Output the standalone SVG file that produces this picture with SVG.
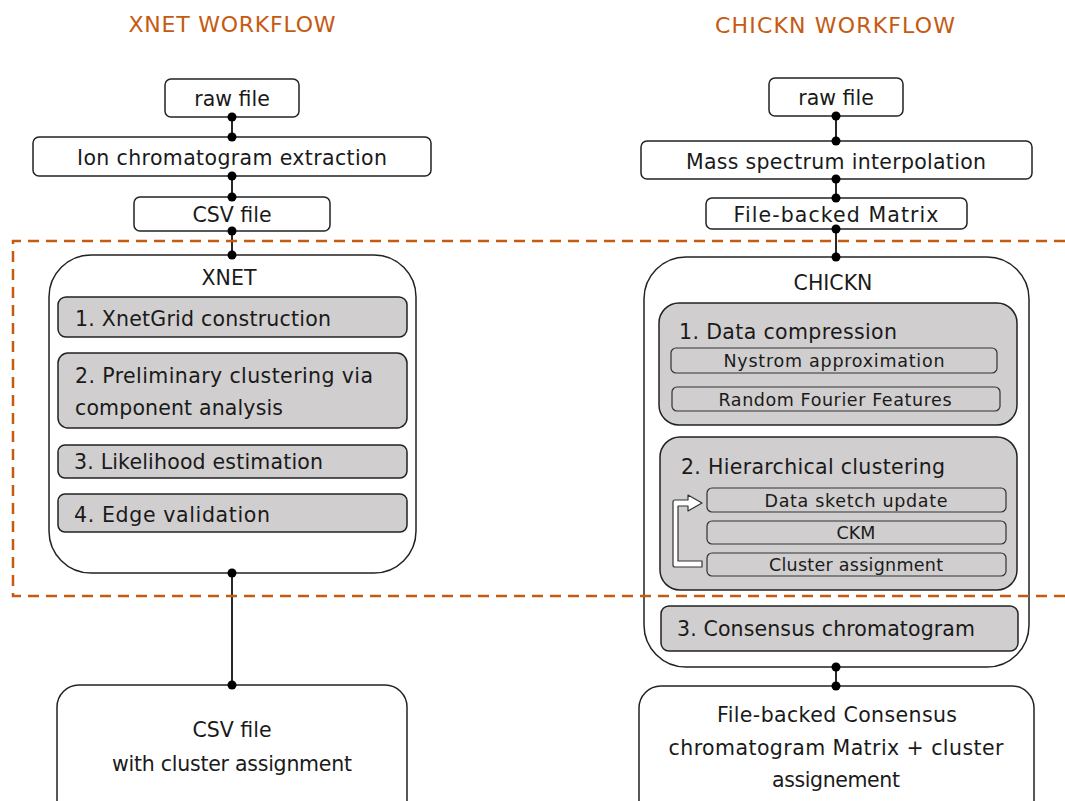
<svg xmlns="http://www.w3.org/2000/svg" width="1065" height="801" viewBox="0 0 1065 801">
<style>
text{font-family:"DejaVu Sans","Liberation Sans",sans-serif;fill:#1a1a1a}
.title{font-size:22px;fill:#c55a11;text-anchor:middle}
.lbl{font-size:20.5px}
.c{text-anchor:middle}
.sm{font-size:17.5px;text-anchor:middle}
.box{fill:#fff;stroke:#222;stroke-width:1.5}
.gray{fill:#d0cece;stroke:#222;stroke-width:1.5}
.sub{fill:#d0cece;stroke:#333;stroke-width:1.2}
.ln{stroke:#111;stroke-width:1.8;fill:none}
.dot{fill:#000}
.dash{fill:none;stroke:#c55a11;stroke-width:2.5;stroke-dasharray:11 7}
</style>
<rect width="1065" height="801" fill="#fff"/>
<text class="title" x="232" y="32" textLength="207">XNET WORKFLOW</text>
<text class="title" x="835" y="33" textLength="240">CHICKN WORKFLOW</text>

<g id="x-raw"><rect class="box" x="165" y="79" width="134" height="38" rx="6"/><text class="lbl c" x="232" y="106">raw file</text></g>
<g id="x-ion"><rect class="box" x="33" y="137" width="398" height="39" rx="6"/><text class="lbl c" x="232" y="165" textLength="310">Ion chromatogram extraction</text></g>
<g id="x-csv"><rect class="box" x="134" y="197" width="196" height="34" rx="6"/><text class="lbl c" x="232" y="222">CSV file</text></g>
<g id="xnet">
<rect class="box" x="49" y="255" width="367" height="318" rx="42"/>
<text class="lbl c" x="229" y="285">XNET</text>
<rect class="gray" x="58" y="297" width="349" height="40" rx="8"/>
<text class="lbl" x="75" y="326" textLength="256">1. XnetGrid construction</text>
<rect class="gray" x="58" y="353" width="349" height="75" rx="10"/>
<text class="lbl" x="75" y="383" textLength="298">2. Preliminary clustering via</text>
<text class="lbl" x="75" y="415" textLength="208">component analysis</text>
<rect class="gray" x="58" y="445" width="349" height="33" rx="7"/>
<text class="lbl" x="74" y="469" textLength="249">3. Likelihood estimation</text>
<rect class="gray" x="58" y="494" width="349" height="38" rx="7"/>
<text class="lbl" x="74" y="522" textLength="196">4. Edge validation</text>
</g>
<g id="x-out"><rect class="box" x="57" y="685" width="350" height="140" rx="22"/>
<text class="lbl c" x="232" y="737">CSV file</text>
<text class="lbl c" x="232" y="771" textLength="240">with cluster assignment</text></g>

<g id="c-raw"><rect class="box" x="769" y="78" width="134" height="38" rx="6"/><text class="lbl c" x="836" y="105">raw file</text></g>
<g id="c-mass"><rect class="box" x="641" y="141" width="391" height="38" rx="6"/><text class="lbl c" x="836" y="169" textLength="300">Mass spectrum interpolation</text></g>
<g id="c-fbm"><rect class="box" x="706" y="198" width="261" height="31" rx="6"/><text class="lbl c" x="836" y="222" textLength="205">File-backed Matrix</text></g>
<g id="chickn">
<rect class="box" x="644" y="257" width="385" height="410" rx="42"/>
<text class="lbl c" x="833" y="290">CHICKN</text>
<rect class="gray" x="659" y="303" width="358" height="122" rx="20"/>
<text class="lbl" x="679" y="339" textLength="218">1. Data compression</text>
<rect class="sub" x="671" y="348" width="326" height="25" rx="5"/>
<text class="sm" x="834" y="367" textLength="221">Nystrom approximation</text>
<rect class="sub" x="672" y="387" width="328" height="24" rx="5"/>
<text class="sm" x="835" y="406" textLength="233">Random Fourier Features</text>
<rect class="gray" x="660" y="437" width="357" height="153" rx="20"/>
<text class="lbl" x="681" y="474" textLength="264">2. Hierarchical clustering</text>
<rect class="sub" x="707" y="488" width="299" height="24" rx="5"/>
<text class="sm" x="856" y="507" textLength="183">Data sketch update</text>
<rect class="sub" x="707" y="521" width="299" height="23" rx="5"/>
<text class="sm" x="856" y="539">CKM</text>
<rect class="sub" x="707" y="553" width="299" height="23" rx="5"/>
<text class="sm" x="856" y="571" textLength="174">Cluster assignment</text>
<path d="M702,567 L675,567 Q673,567 673,565 L673,502 Q673,500 675,500 L688,500 L688,495 L702,503 L688,511 L688,506 L678,506 L678,561 L702,561 Z" fill="#fff" stroke="#333" stroke-width="1.2" stroke-linejoin="round"/>
<rect class="gray" x="661" y="606" width="357" height="45" rx="8"/>
<text class="lbl" x="677" y="636" textLength="298">3. Consensus chromatogram</text>
</g>
<g id="c-out"><rect class="box" x="639" y="686" width="395" height="140" rx="22"/>
<text class="lbl c" x="837" y="722" textLength="240">File-backed Consensus</text>
<text class="lbl c" x="836" y="755" textLength="335">chromatogram Matrix + cluster</text>
<text class="lbl c" x="836" y="787" textLength="128">assignement</text></g>

<g id="connectors">
<path class="ln" d="M232,117V137M232,176V197M232,231V255M232,573V685"/>
<path class="ln" d="M836,116V141M836,179V198M836,229V257M836,667V686"/>
<g class="dot">
<circle cx="232" cy="117" r="4.5"/><circle cx="232" cy="137" r="4.5"/><circle cx="232" cy="176" r="4.5"/><circle cx="232" cy="197" r="4.5"/><circle cx="232" cy="231" r="4.5"/><circle cx="232" cy="255" r="4.5"/><circle cx="232" cy="573" r="4.5"/><circle cx="232" cy="685" r="4.5"/>
<circle cx="836" cy="116" r="4.5"/><circle cx="836" cy="141" r="4.5"/><circle cx="836" cy="179" r="4.5"/><circle cx="836" cy="198" r="4.5"/><circle cx="836" cy="229" r="4.5"/><circle cx="836" cy="257" r="4.5"/><circle cx="836" cy="667" r="4.5"/><circle cx="836" cy="686" r="4.5"/>
</g>
</g>
<path class="dash" d="M1065,241H13V596H1065"/>
</svg>
